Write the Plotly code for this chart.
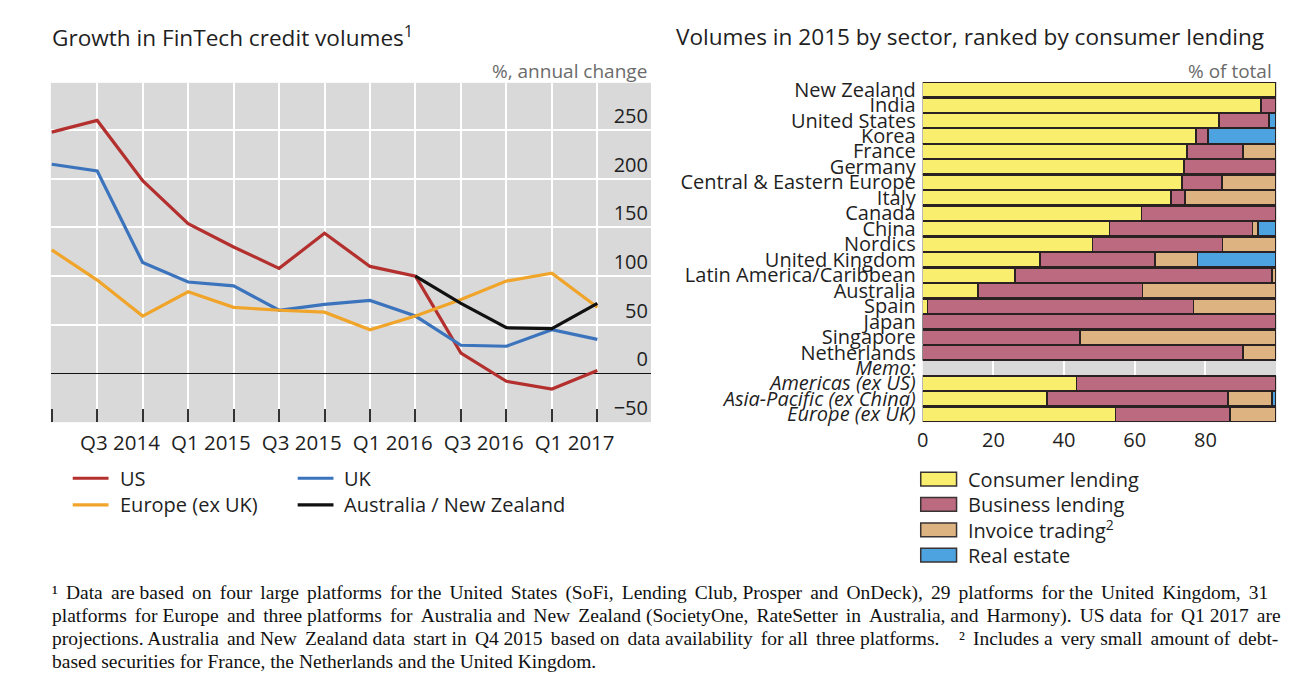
import plotly.graph_objects as go

# page is 1294x684; body margin of 8px -> figure is 1278x668 placed at (8, 8)
PW, PH = 1294, 684
OFF = 8
FW, FH = PW - 2 * OFF, PH - 2 * OFF


def px(x):
    return (x - OFF) / FW


def py(y):
    return 1 - (y - OFF) / FH


# ---------------- Left chart data ----------------
quarters = ["Q1 2014", "Q2 2014", "Q3 2014", "Q4 2014",
            "Q1 2015", "Q2 2015", "Q3 2015", "Q4 2015",
            "Q1 2016", "Q2 2016", "Q3 2016", "Q4 2016", "Q1 2017"]
us = [248, 260, 198, 154, 130, 108, 144, 110, 100, 21, -8, -16, 3]
uk = [215, 208, 114, 94, 90, 65, 71, 75, 59, 29, 28, 45, 35]
europe = [127, 96, 59, 84, 68, 65, 63, 45, 59, 76, 95, 103, 68]
aus_nz = [None, None, None, None, None, None, None, None, 100, 72, 47, 46, 72]
y_ticks_left = [-50, 0, 50, 100, 150, 200, 250]

# ---------------- Right chart data ----------------
sectors = ["New Zealand", "India", "United States", "Korea", "France", "Germany",
           "Central & Eastern Europe", "Italy", "Canada", "China", "Nordics",
           "United Kingdom", "Latin America/Caribbean", "Australia", "Spain",
           "Japan", "Singapore", "Netherlands", "<i>Memo:</i>",
           "<i>Americas (ex US)</i>", "<i>Asia-Pacific (ex China)</i>", "<i>Europe (ex UK)</i>"]
consumer = [100, 95.7, 83.9, 77.3, 74.8, 73.9, 73.4, 70.2, 61.9, 52.8, 48.0,
            33.2, 26.1, 15.7, 1.4, 0, 0, 0, None, 43.5, 35.2, 54.5]
business = [0, 4.3, 14.1, 3.4, 15.9, 26.1, 11.3, 4.0, 38.1, 40.6, 36.9,
            32.5, 72.8, 46.5, 75.3, 100, 44.5, 90.6, None, 56.5, 51.2, 32.4]
invoice = [0, 0, 0, 0, 9.3, 0, 15.3, 25.8, 0, 1.5, 15.1,
           12.1, 1.1, 37.8, 23.3, 0, 55.5, 9.4, None, 0, 12.5, 13.1]
real_estate = [0, 0, 2.0, 19.3, 0, 0, 0, 0, 0, 5.1, 0,
               22.2, 0, 0, 0, 0, 0, 0, None, 0, 1.1, 0]
x_ticks_right = [0, 20, 40, 60, 80]

FONT = "Open Sans"
TXT = "#1f1f1f"
GREY_BG = "#d9d9d9"

fig = go.Figure()

xq = list(range(len(quarters)))
line_series = [
    ("US", us, "#b3302f"),
    ("UK", uk, "#3b74bd"),
    ("Europe (ex UK)", europe, "#f0a52a"),
    ("Australia / New Zealand", aus_nz, "#111111"),
]
for name, vals, col in line_series:
    fig.add_trace(go.Scatter(x=xq, y=vals, mode="lines", name=name,
                             line=dict(color=col, width=3.2),
                             xaxis="x", yaxis="y", showlegend=False))

bar_series = [
    ("Consumer lending", consumer, "#f9ee6e"),
    ("Business lending", business, "#bb6a80"),
    ("Invoice trading<sup>2</sup>", invoice, "#dcb381"),
    ("Real estate", real_estate, "#4da2e0"),
]
ypos = list(range(len(sectors)))
BAR_EDGE = "#2a2222"
for name, vals, col in bar_series:
    fig.add_trace(go.Bar(x=vals, y=ypos, orientation="h", name=name,
                         marker=dict(color=col, line=dict(color=BAR_EDGE, width=1.5)),
                         xaxis="x2", yaxis="y2", showlegend=False))

# tick labels for left chart (centred in the quarter interval)
lab_pos = [i - 0.5 for i, q in enumerate(quarters) if i > 0 and q[:2] in ("Q1", "Q3")]
lab_txt = [q for i, q in enumerate(quarters) if i > 0 and q[:2] in ("Q1", "Q3")]

fig.update_layout(
    width=FW, height=FH,
    margin=dict(l=0, r=0, t=0, b=0),
    paper_bgcolor="white",
    plot_bgcolor=GREY_BG,
    font=dict(family=FONT, size=20, color=TXT),
    barmode="stack", bargap=0.06,
    showlegend=False,
    xaxis=dict(domain=[px(45), px(648)], range=[-0.02, 13.18],
               tickvals=lab_pos, ticktext=lab_txt, ticks="",
               showgrid=False, zeroline=False, showline=False,
               tickfont=dict(size=20.5, color=TXT), ticklabelstandoff=6,
               minor=dict(tickvals=xq, ticks="inside", ticklen=13,
                          tickcolor="#333333", tickwidth=1.5,
                          showgrid=True, gridcolor="white", gridwidth=1.5)),
    yaxis=dict(domain=[py(423), py(78)], range=[-50, 298.6], side="right",
               tickvals=y_ticks_left, ticklabelposition="inside top",
               showgrid=True, gridcolor="white", gridwidth=1.5,
               zeroline=True, zerolinecolor="#111111", zerolinewidth=1.2,
               showline=False, ticks="",
               tickfont=dict(size=20, color=TXT)),
    xaxis2=dict(domain=[px(921), px(1276)], range=[0, 100], anchor="y2",
                tickvals=x_ticks_right, showgrid=True, gridcolor="white",
                gridwidth=1.5, zeroline=False, ticks="",
                tickfont=dict(size=20, color=TXT), ticklabelstandoff=4),
    yaxis2=dict(domain=[py(423), py(77)], anchor="x2",
                range=[len(sectors) - 0.5, -0.5],
                tickvals=ypos, ticktext=sectors, showgrid=False,
                zeroline=False, ticks="", ticklabelstandoff=6,
                tickfont=dict(size=20, color=TXT)),
)

ann = [
    dict(text="Growth in FinTech credit volumes<sup>1</sup>", x=px(44), y=py(31),
         xanchor="left", yanchor="middle", font=dict(size=22.6, color=TXT)),
    dict(text="Volumes in 2015 by sector, ranked by consumer lending", x=px(671), y=py(31),
         xanchor="left", yanchor="middle", font=dict(size=22.6, color=TXT)),
    dict(text="%, annual change", x=px(646), y=py(66), xanchor="right", yanchor="middle",
         font=dict(size=19, color="#6b6b6b")),
    dict(text="% of total", x=px(1274), y=py(66), xanchor="right", yanchor="middle",
         font=dict(size=19, color="#6b6b6b")),
]
shapes = []

# legend for the line chart (two columns)
leg_lines = [(0, 67, 480), (2, 67, 507), (1, 293, 480), (3, 293, 507)]
for idx, x0, yc in leg_lines:
    name, _, col = line_series[idx]
    shapes.append(dict(type="line", xref="paper", yref="paper",
                       x0=px(x0), x1=px(x0 + 36), y0=py(yc), y1=py(yc),
                       line=dict(color=col, width=3.2)))
    ann.append(dict(text=name, x=px(x0 + 45), y=py(yc), xanchor="left", yanchor="middle",
                    font=dict(size=20, color=TXT)))

# legend for the bar chart
for k, (name, _, col) in enumerate(bar_series):
    yc = 481 + 25.7 * k
    shapes.append(dict(type="rect", xref="paper", yref="paper",
                       x0=px(919), x1=px(955), y0=py(yc - 7), y1=py(yc + 7),
                       fillcolor=col, line=dict(color="#3a3333", width=1.5)))
    ann.append(dict(text=name, x=px(964), y=py(yc), xanchor="left", yanchor="middle",
                    font=dict(size=20, color=TXT)))

footnote_lines = [
    "¹ Data are based on four large platforms for the United States (SoFi, Lending Club, Prosper and OnDeck), 29 platforms for the United Kingdom, 31",
    "platforms for Europe and three platforms for Australia and New Zealand (SocietyOne, RateSetter in Australia, and Harmony). US data for Q1 2017 are",
    "projections. Australia and New Zealand data start in Q4 2015 based on data availability for all three platforms.    ² Includes a very small amount of debt-",
    "based securities for France, the Netherlands and the United Kingdom.",
]
# extra narrow spaces used to justify each footnote line to the full width
footnote_extra = [20, 15, 12, 0]


def justify(line, n_extra):
    parts = line.split(" ")
    gaps = [i for i in range(len(parts) - 1) if parts[i] and parts[i + 1]]
    chosen = set()
    if n_extra:
        for k in range(n_extra):
            chosen.add(gaps[min(len(gaps) - 1, int((k + 0.5) * len(gaps) / n_extra))])
    out = parts[0]
    for i in range(len(parts) - 1):
        out += " " + ("\u2006" if i in chosen else "") + parts[i + 1]
    return out


for i, line in enumerate(footnote_lines):
    ann.append(dict(text=justify(line, footnote_extra[i]), x=px(44), y=py(597 + 23 * i),
                    xanchor="left", yanchor="middle",
                    font=dict(family="Liberation Serif", size=19.5, color="#111111")))

for a in ann:
    a.update(xref="paper", yref="paper", showarrow=False)
fig.update_layout(annotations=ann, shapes=shapes)

fig.write_html("out.html")
